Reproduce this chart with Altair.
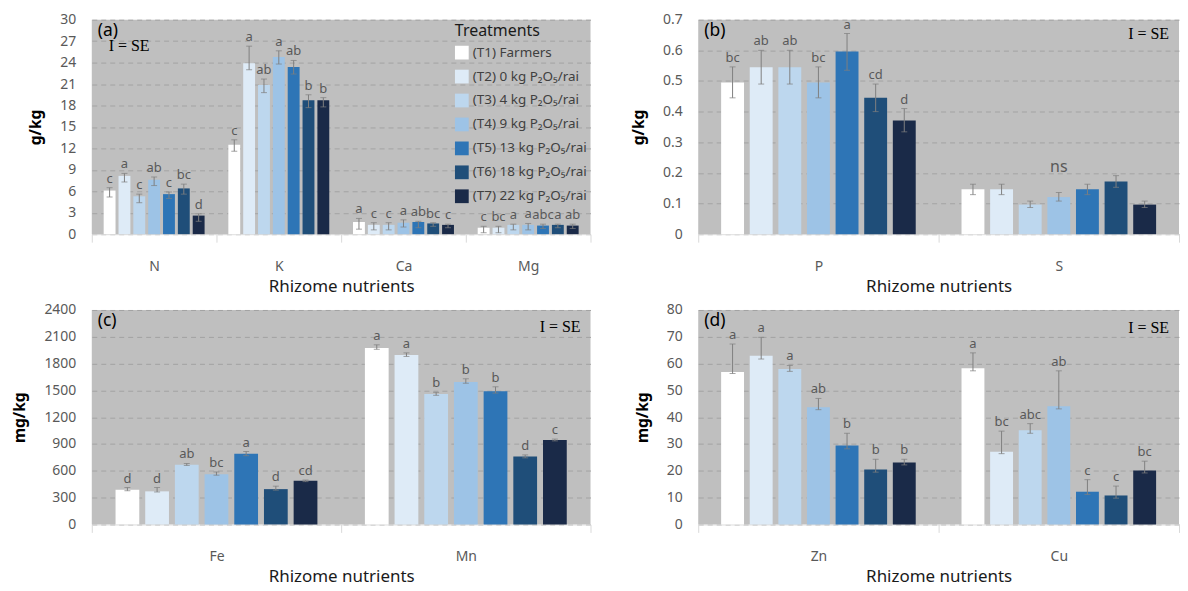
import altair as alt
import pandas as pd

TREATMENTS = ["(T1) Farmers", "(T2) 0 kg P₂O₅/rai", "(T3) 4 kg P₂O₅/rai", "(T4) 9 kg P₂O₅/rai",
              "(T5) 13 kg P₂O₅/rai", "(T6) 18 kg P₂O₅/rai", "(T7) 22 kg P₂O₅/rai"]
COLORS = ["#ffffff", "#deebf7", "#bdd7ee", "#9dc3e6", "#2e75b6", "#1f4e79", "#1a2a48"]

# ---- Panel (a): g/kg ----
a_cats = ["N", "K", "Ca", "Mg"]
N_mean = [6.1, 8.15, 5.3, 7.6, 5.6, 6.4, 2.6]
N_hi = [6.5, 8.5, 5.6, 8.0, 5.9, 7.0, 2.85]
N_lo = [5.2, 7.3, 4.4, 6.8, 5.0, 5.6, 1.8]
N_let = ["c", "a", "c", "ab", "c", "bc", "d"]
K_mean = [12.5, 23.9, 20.85, 24.8, 23.4, 18.75, 18.75]
K_hi = [13.2, 26.3, 21.7, 25.65, 24.3, 19.5, 19.1]
K_lo = [11.6, 23.0, 19.8, 23.8, 22.4, 17.7, 17.8]
K_let = ["c", "a", "ab", "a", "ab", "b", "b"]
Ca_mean = [1.7, 1.3, 1.3, 1.6, 1.7, 1.5, 1.3]
Ca_hi = [2.2, 1.6, 1.6, 2.0, 1.8, 1.6, 1.4]
Ca_lo = [0.7, 0.6, 0.6, 1.0, 0.9, 1.1, 0.9]
Ca_let = ["a", "c", "c", "a", "ab", "bc", "c"]
Mg_mean = [0.9, 0.9, 1.3, 1.3, 1.2, 1.3, 1.2]
Mg_hi = [1.1, 1.1, 1.4, 1.5, 1.4, 1.4, 1.4]
Mg_lo = [0.2, 0.2, 0.6, 0.6, 0.8, 0.9, 0.8]
Mg_let = ["c", "bc", "a", "a", "abc", "a", "ab"]

# ---- Panel (b): g/kg ----
b_cats = ["P", "S"]
P_mean = [0.495, 0.545, 0.545, 0.495, 0.596, 0.445, 0.371]
P_hi = [0.546, 0.60, 0.60, 0.546, 0.655, 0.49, 0.41]
P_lo = [0.445, 0.49, 0.49, 0.445, 0.535, 0.40, 0.334]
P_let = ["bc", "ab", "ab", "bc", "a", "cd", "d"]
S_mean = [0.147, 0.147, 0.0965, 0.121, 0.147, 0.172, 0.0965]
S_hi = [0.163, 0.163, 0.108, 0.136, 0.163, 0.191, 0.108]
S_lo = [0.129, 0.129, 0.087, 0.108, 0.129, 0.153, 0.087]
S_let = ["", "", "", "", "", "", ""]
ns_cat = ["S"]
ns_val = [0.218]
ns_txt = ["ns"]

# ---- Panel (c): mg/kg ----
c_cats = ["Fe", "Mn"]
Fe_mean = [388, 370, 667, 562, 790, 395, 489]
Fe_hi = [413, 413, 682, 587, 816, 428, 497]
Fe_lo = [377, 363, 660, 551, 769, 384, 479]
Fe_let = ["d", "d", "ab", "bc", "a", "d", "cd"]
Mn_mean = [1975, 1895, 1460, 1595, 1490, 760, 945]
Mn_hi = [2010, 1920, 1478, 1630, 1540, 778, 955]
Mn_lo = [1960, 1880, 1445, 1580, 1470, 745, 935]
Mn_let = ["a", "a", "b", "b", "b", "d", "c"]

# ---- Panel (d): mg/kg ----
d_cats = ["Zn", "Cu"]
Zn_mean = [56.9, 62.9, 58.0, 43.7, 29.4, 20.5, 23.1]
Zn_hi = [67.3, 69.8, 59.3, 47.0, 34.0, 24.3, 24.3]
Zn_lo = [56.3, 61.7, 57.1, 42.8, 28.2, 19.5, 22.2]
Zn_let = ["a", "a", "a", "ab", "b", "b", "b"]
Cu_mean = [58.3, 27.1, 35.1, 44.1, 12.2, 10.8, 20.1]
Cu_hi = [64.0, 34.8, 37.6, 57.3, 16.7, 14.3, 23.6]
Cu_lo = [57.3, 26.4, 34.0, 43.1, 11.2, 9.8, 19.2]
Cu_let = ["a", "bc", "abc", "ab", "c", "c", "bc"]


def frame(cats, means, his, los, lets):
    rows = []
    for cat, m, h, l, t in zip(cats, means, his, los, lets):
        for i, trt in enumerate(TREATMENTS):
            rows.append({"cat": cat, "trt": trt, "mean": m[i], "hi": h[i], "lo": l[i], "let": t[i]})
    return pd.DataFrame(rows)


df_a = frame(a_cats, [N_mean, K_mean, Ca_mean, Mg_mean], [N_hi, K_hi, Ca_hi, Mg_hi],
             [N_lo, K_lo, Ca_lo, Mg_lo], [N_let, K_let, Ca_let, Mg_let])
df_b = frame(b_cats, [P_mean, S_mean], [P_hi, S_hi], [P_lo, S_lo], [P_let, S_let])
df_c = frame(c_cats, [Fe_mean, Mn_mean], [Fe_hi, Mn_hi], [Fe_lo, Mn_lo], [Fe_let, Mn_let])
df_d = frame(d_cats, [Zn_mean, Cu_mean], [Zn_hi, Cu_hi], [Zn_lo, Cu_lo], [Zn_let, Cu_let])

FONT = "Noto Sans"
GREY_TXT = "#595959"
ERR = "#7f7f7f"
H = 215


def panel(df, cats, ymax, step, ytitle, width, tag, se_x, se_y, se_align, legend=False, ns=None):
    band = width / len(cats)
    xenc = alt.X("cat:N", sort=cats, title="Rhizome nutrients",
                 scale=alt.Scale(paddingInner=0, paddingOuter=0),
                 axis=alt.Axis(labelAngle=0, tickBand="extent", tickSize=8, tickColor="#d9d9d9",
                               domainColor="#d9d9d9", labelFontSize=14, labelColor=GREY_TXT,
                               labelPadding=17, titleFontSize=17, titleFontWeight="normal",
                               titleColor="#1a1a1a", titlePadding=5, grid=False))
    xo = alt.XOffset("trt:N", sort=TREATMENTS,
                     scale=alt.Scale(range=[0, band], paddingInner=0.2, paddingOuter=0.8))
    vals = []
    v = 0.0
    while v <= ymax + 1e-9:
        vals.append(round(v, 4))
        v += step
    yscale = alt.Scale(domain=[0, ymax], nice=False)
    yaxis = alt.Axis(values=vals, labelExpr="'' + datum.value", ticks=False, domain=False,
                     labelFontSize=14, labelColor=GREY_TXT, labelPadding=16, grid=True,
                     gridColor="#a3a3a3", gridDash=[5, 4], titleFontSize=15.5,
                     titleFontWeight="bold", titleColor="#000000", titlePadding=16)
    leg = None
    if legend:
        leg = alt.Legend(title="Treatments", orient="top-right", offset=3, symbolType="square",
                         symbolSize=190, symbolStrokeWidth=0, labelFontSize=13.5, labelColor="#404040",
                         titleFontSize=16, titleFontWeight="normal", titleColor="#1a1a1a",
                         rowPadding=10.0, titlePadding=7, labelFont=FONT, titleFont=FONT)
    color = alt.Color("trt:N", sort=TREATMENTS,
                      scale=alt.Scale(domain=TREATMENTS, range=COLORS), legend=leg)
    base = alt.Chart(df)
    bars = base.mark_bar().encode(
        x=xenc, xOffset=xo,
        y=alt.Y("mean:Q", scale=yscale, axis=yaxis, title=ytitle),
        color=color)
    stem = base.mark_rule(color=ERR, strokeWidth=1).encode(
        x=xenc, xOffset=xo, y=alt.Y("lo:Q", scale=yscale, axis=yaxis, title=ytitle), y2="hi:Q")
    cap_hi = base.mark_tick(color=ERR, size=6, thickness=1).encode(
        x=xenc, xOffset=xo, y=alt.Y("hi:Q", scale=yscale, axis=yaxis, title=ytitle))
    cap_lo = base.mark_tick(color=ERR, size=6, thickness=1).encode(
        x=xenc, xOffset=xo, y=alt.Y("lo:Q", scale=yscale, axis=yaxis, title=ytitle))
    letters = base.mark_text(baseline="bottom", dy=-2, fontSize=13, color=GREY_TXT, font=FONT).encode(
        x=xenc, xOffset=xo, y=alt.Y("hi:Q", scale=yscale, axis=yaxis, title=ytitle), text="let:N")
    tag_t = alt.Chart(pd.DataFrame({"t": [tag]})).mark_text(
        align="left", baseline="middle", fontSize=17.5, color="#000000", font=FONT).encode(
        x=alt.value(6), y=alt.value(11), text="t:N")
    se_t = alt.Chart(pd.DataFrame({"t": ["I = SE"]})).mark_text(
        align=se_align, baseline="middle", fontSize=16, color="#000000", font="Liberation Serif").encode(
        x=alt.value(se_x), y=alt.value(se_y), text="t:N")
    layers = [bars, stem, cap_hi, cap_lo, letters, tag_t, se_t]
    if ns is not None:
        ns_t = alt.Chart(ns).mark_text(baseline="middle", fontSize=16, color=GREY_TXT, font=FONT).encode(
            x=xenc, y=alt.Y("val:Q", scale=yscale, axis=yaxis, title=ytitle), text="txt:N")
        layers.append(ns_t)
    return alt.layer(*layers).properties(width=width, height=H)


df_ns = pd.DataFrame({"cat": ns_cat, "val": ns_val, "txt": ns_txt})

W1 = 500
W2 = 482
pa = panel(df_a, a_cats, 30, 3, "g/kg", W1, "(a)", 17, 26, "left", legend=True)
pb = panel(df_b, b_cats, 0.7, 0.1, "g/kg", W2, "(b)", W2 - 10, 14, "right", ns=df_ns)
pc = panel(df_c, c_cats, 2400, 300, "mg/kg", W1, "(c)", W1 - 10, 17, "right")
pd_ = panel(df_d, d_cats, 80, 10, "mg/kg", W2, "(d)", W2 - 10, 18, "right")

chart = alt.concat(pa, pb, pc, pd_, columns=2, spacing={"row": 9, "column": 40}).resolve_scale(
    color="independent", xOffset="independent").properties(
    padding={"left": 4, "top": 4, "right": 0, "bottom": 4}).configure(
    font=FONT).configure_view(fill="#bfbfbf", stroke=None)

chart.save("out.html", embed_options={"renderer": "svg", "actions": False})
